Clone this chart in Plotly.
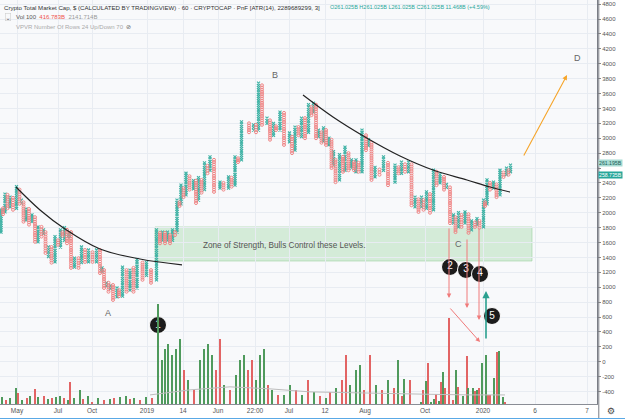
import plotly.graph_objects as go

# ---------------- DATA ----------------
# Point & Figure columns (slot position, column high, column low); kinds alternate X / O starting with X
col_x = [1, 3, 5, 7.5, 10, 13, 16.5, 19.5, 21.5, 23.5, 26, 29, 32, 35, 38, 41.5, 43.5, 45.5, 48.5, 51.5,
         55, 58, 60.5, 62.5, 64.5, 67, 69, 71, 74.5, 78.5, 81.5, 85, 88.5, 92.5, 96.5, 100, 102, 104, 106.5, 108.5,
         110.5, 113, 117, 119, 122.5, 126.5, 130, 133.5, 137, 142.5, 146.5, 151, 156.5, 160, 162.5, 165, 167.5, 170, 172.5, 175,
         177, 179.5, 181, 183.5, 186, 189.5, 193.5, 196, 198.5, 201.5, 204.5, 207.5, 210, 214, 220, 223.5, 228.5, 231.5, 235, 238,
         241.5, 249, 253.5, 256, 258.5, 262, 267, 270, 273.5, 276, 280, 284, 289.5, 292, 295, 298.5, 301.5, 305, 308.5, 311.5,
         313.5, 316, 318.5, 321.5, 323.5, 326, 329, 331.5, 333.5, 335.5, 339.5, 343, 345, 348.5, 351.5, 354, 356, 358.5, 362, 366,
         368.5, 371.5, 375, 379.5, 383.5, 388, 395, 398.5, 401.5, 405, 408.5, 411.5, 415, 418.5, 421.5, 423.5, 426.5, 430, 433.5, 436.5,
         440, 444, 446.5, 450, 453.5, 455.5, 458.5, 461.5, 465, 468.5, 471.5, 475, 477, 479.5, 483.5, 485, 487, 490, 493.5, 496.5,
         500, 503.5, 506.5, 508.5, 510.5]
col_hi = [2040, 2060, 2250, 2240, 2210, 2200, 2350, 2310, 2170, 2140, 2050, 2050, 1970, 1940, 1810, 1810, 1770, 1740, 1540, 1540,
          1680, 1630, 1770, 1740, 1800, 1770, 1730, 1740, 1390, 1390, 1540, 1500, 1500, 1470, 1500, 1500, 1260, 1230, 1060, 1060,
          1020, 1030, 990, 960, 1270, 1230, 1230, 1260, 1370, 1330, 1330, 1230, 1770, 1730, 1740, 1730, 1740, 1700, 1770, 1740,
          2170, 2140, 2370, 2330, 2530, 2490, 2430, 2430, 2470, 2440, 2670, 2630, 2750, 2710, 2410, 2400, 2480, 2470, 2750, 2730,
          3220, 3200, 3180, 3180, 3740, 3710, 3270, 3240, 3200, 3160, 3350, 3340, 3070, 3020, 3150, 3150, 3270, 3270, 3450, 3420,
          3470, 3450, 3110, 3080, 3140, 3110, 3000, 2980, 2820, 2710, 2780, 2750, 2880, 2800, 2710, 2680, 2710, 2670, 3110, 3040,
          2980, 2940, 2610, 2580, 2750, 2670, 2640, 2610, 2680, 2650, 2680, 2650, 2210, 2180, 2210, 2170, 2280, 2250, 2570, 2550,
          2510, 2480, 2380, 2340, 1970, 1940, 2000, 1970, 2010, 1980, 1890, 1870, 1920, 1890, 2170, 2140, 2440, 2400, 2410, 2380,
          2570, 2540, 2600, 2570, 2640]
col_lo = [1740, 1980, 2010, 2060, 2080, 2040, 2060, 2120, 2130, 1880, 1900, 1840, 1880, 1610, 1610, 1680, 1720, 1460, 1410, 1330,
          1340, 1570, 1540, 1690, 1630, 1590, 1660, 1260, 1270, 1260, 1330, 1340, 1340, 1340, 1340, 1190, 1210, 990, 1020, 940,
          980, 830, 870, 880, 880, 940, 960, 940, 990, 1100, 1160, 1060, 1100, 1590, 1630, 1590, 1630, 1590, 1630, 1700,
          1740, 2090, 2120, 2210, 2240, 2310, 2320, 2130, 2170, 2270, 2310, 2530, 2570, 2280, 2330, 2310, 2330, 2350, 2370, 2680,
          2710, 3080, 3110, 3080, 3110, 3180, 3200, 2980, 3040, 3110, 3110, 2910, 2950, 2800, 2840, 3040, 3020, 3000, 3080, 3310,
          3350, 3000, 3020, 2940, 2960, 2910, 2910, 2600, 2640, 2410, 2440, 2550, 2570, 2570, 2600, 2570, 2550, 2550, 2550, 2840,
          2900, 2440, 2480, 2510, 2570, 2370, 2410, 2530, 2530, 2550, 2550, 2100, 2080, 2010, 2080, 2040, 2060, 2000, 2040, 2370,
          2400, 2310, 2340, 1860, 1860, 1740, 1810, 1810, 1860, 1730, 1770, 1810, 1840, 1800, 1810, 2090, 2120, 2310, 2330, 2210,
          2240, 2480, 2510, 2510, 2550]
BOX = 30

# Volume histogram (slot position, volume, 1 = up / 0 = down)
vol_x = [2, 6, 10, 16, 18, 22, 27, 30, 35, 38, 44, 48, 52, 56, 60, 64, 68, 70, 74, 80, 83, 88, 92, 98, 104, 110, 114, 120,
         126, 130, 134, 140, 146, 152, 158, 162, 165, 168, 172, 176, 180, 184, 188, 194, 200, 204, 208, 212, 216, 220, 224, 230,
         236, 240, 244, 248, 252, 256, 260, 264, 268, 272, 278, 284, 290, 296, 302, 308, 314, 320, 326, 330, 336, 342, 346, 350,
         356, 360, 364, 370, 376, 382, 388, 394, 398,
         402, 404, 410, 421, 423, 426, 428, 431, 434, 436, 439, 441, 443, 445, 449, 453, 456, 458, 463, 467, 468, 473, 475, 477,
         479, 482, 486, 488, 490, 494, 497, 499, 503, 505]
vol_v = [35, 20, 30, 80, 55, 20, 30, 40, 75, 35, 40, 25, 30, 35, 40, 30, 20, 110, 30, 70, 25, 40, 10, 30, 20, 25, 30, 35,
         40, 25, 30, 20, 35, 30, 495, 220, 270, 295, 245, 270, 320, 170, 120, 70, 220, 270, 295, 245, 170, 320, 95, 70,
         145, 220, 245, 170, 220, 120, 245, 270, 95, 70, 45, 45, 95, 70, 45, 120, 60, 40, 30, 60, 80, 120, 245, 95,
         170, 195, 70, 245, 95, 70, 120, 80, 220,
         40, 125, 120, 10, 70, 115, 205, 10, 25, 50, 15, 110, 160, 80, 425, 20, 170, 85, 40, 240, 80, 80, 65, 70,
         80, 205, 245, 45, 45, 130, 255, 260, 35, 5]
vol_up = [1, 0, 1, 1, 0, 1, 0, 1, 0, 1, 0, 1, 0, 1, 1, 0, 1, 0, 1, 1, 0, 1, 0, 1, 0, 1, 0, 1,
          1, 0, 1, 0, 1, 0, 1, 1, 1, 1, 1, 1, 1, 0, 1, 0, 1, 1, 1, 1, 0, 0, 1, 0,
          1, 1, 1, 0, 0, 1, 1, 1, 0, 1, 0, 1, 1, 0, 1, 0, 1, 0, 1, 0, 1, 0, 0, 1,
          1, 1, 0, 0, 1, 0, 1, 0, 1,
          0, 1, 0, 1, 0, 1, 0, 1, 1, 0, 1, 0, 1, 0, 0, 0, 1, 0, 1, 0, 1, 1, 0, 1,
          0, 1, 1, 0, 0, 1, 0, 1, 1, 0]
ma_x = [150, 190, 230, 270, 310, 350, 390, 430, 470, 505]
ma_v = [45, 70, 85, 75, 60, 55, 50, 48, 45, 45]

# Price-axis and time-axis ticks (2600 is hidden behind the last-price labels)
y_ticks = list(range(-400, 4801, 200))
y_ticktext = ["" if v == 2600 else str(v) for v in y_ticks]
x_tickpos = [17, 58, 92, 147, 183, 218, 255, 289, 325, 365, 425, 483, 535, 587]
x_ticktext = ["May", "Jul", "Oct", "2019", "14", "Jun", "22:00", "Jul", "12", "Aug", "Oct", "2020", "6", "7"]

# Drawings
curve1_x = [16, 40, 65, 100, 140, 182]
curve1_y = [2345, 2037, 1782, 1513, 1379, 1299]
curve2_x = [303, 333, 365, 400, 433, 467, 490, 510]
curve2_y = [3580, 3285, 3017, 2762, 2574, 2439, 2345, 2278]
zone = dict(x0=155, x1=532, y0=1352, y1=1809)
letters = [("A", 108, 655), ("B", 275, 3848), ("C", 458, 1581), ("D", 577, 4077)]
circles_x = [158, 450, 466, 480, 492]
circles_y = [493, 1272, 1232, 1178, 614]
circles_t = ["1", "2", "3", "4", "5"]
red_arrows = [(449, 1809, 449, 856), (467, 1661, 467, 722), (479, 1809, 479, 561), (449, 735, 480, 265)]
green_arrow = (486, 292, 486, 950)
orange_arrow = (523, 2748, 567, 3848)
last_labels = [("261.195B", 2672, "#a8dcd3", "#1b5e57"), ("258.735B", 2512, "#26a69a", "white")]

TEAL = "#3fb2a5"
RED = "#f08585"

# ---------------- FIGURE ----------------
fig = go.Figure()

# volume bars on a hidden overlay axis
fig.add_trace(go.Bar(x=vol_x, y=vol_v, width=1.5, yaxis="y2",
                     marker=dict(color=["#4f9a5c" if u else "#e26464" for u in vol_up], line_width=0),
                     hoverinfo="skip", showlegend=False))
fig.add_trace(go.Scatter(x=ma_x, y=ma_v, yaxis="y2", mode="lines", line=dict(color="#bdbdbd", width=1),
                         hoverinfo="skip", showlegend=False))

# PnF columns
xs_x, ys_x, xs_o, ys_o = [], [], [], []
for i, (cx, hi, lo) in enumerate(zip(col_x, col_hi, col_lo)):
    n = max(1, int(round((hi - lo) / BOX)) + 1)
    vals = [lo + k * (hi - lo) / max(n - 1, 1) for k in range(n)]
    if i % 2 == 0:
        xs_x += [cx] * n
        ys_x += vals
    else:
        xs_o += [cx] * n
        ys_o += vals
fig.add_trace(go.Scatter(x=xs_x, y=ys_x, mode="markers",
                         marker=dict(symbol="x-thin", size=3, color=TEAL, line=dict(color=TEAL, width=1.1)),
                         hoverinfo="skip", showlegend=False))
fig.add_trace(go.Scatter(x=xs_o, y=ys_o, mode="markers",
                         marker=dict(symbol="circle-open", size=3, color=RED, line=dict(color=RED, width=1)),
                         hoverinfo="skip", showlegend=False))

# trend curves
for cx, cy in [(curve1_x, curve1_y), (curve2_x, curve2_y)]:
    fig.add_trace(go.Scatter(x=cx, y=cy, mode="lines", line=dict(color="#222", width=1.2, shape="spline"),
                             hoverinfo="skip", showlegend=False))

# zone
fig.add_shape(type="rect", xref="x", yref="y", layer="below", **zone,
              fillcolor="rgba(140,205,145,0.33)", line=dict(color="rgba(140,205,145,0.5)", width=1))
fig.add_annotation(x=201, y=(zone["y0"] + zone["y1"]) / 2 - 20, xref="x", yref="y", xanchor="left",
                   text="Zone of Strength, Bulls Control these Levels.", showarrow=False,
                   font=dict(size=8.2, color="#555", family="Liberation Sans"))

for t, lx, ly in letters:
    fig.add_annotation(x=lx, y=ly, text=t, showarrow=False, font=dict(size=9, color="#666", family="Liberation Sans"))

for (x0, y0, x1, y1) in red_arrows:
    fig.add_annotation(x=x1, y=y1, ax=x0, ay=y0, xref="x", yref="y", axref="x", ayref="y", text="",
                       showarrow=True, arrowhead=2, arrowsize=0.9, arrowwidth=1, arrowcolor="#f07a7a")
x0, y0, x1, y1 = green_arrow
fig.add_annotation(x=x1, y=y1, ax=x0, ay=y0, xref="x", yref="y", axref="x", ayref="y", text="",
                   showarrow=True, arrowhead=2, arrowsize=0.9, arrowwidth=1.6, arrowcolor="#2aa08f")
x0, y0, x1, y1 = orange_arrow
fig.add_annotation(x=x1, y=y1, ax=x0, ay=y0, xref="x", yref="y", axref="x", ayref="y", text="",
                   showarrow=True, arrowhead=2, arrowsize=0.9, arrowwidth=1.1, arrowcolor="#f6a52a")

fig.add_trace(go.Scatter(x=circles_x, y=circles_y, mode="markers+text", text=circles_t,
                         marker=dict(size=17, color="#1c1c1c", line=dict(color="white", width=1)),
                         textfont=dict(color="white", size=10, family="Liberation Sans"),
                         textposition="middle center", hoverinfo="skip", showlegend=False))

# header texts
H = 404.0
def py(px):
    return 1 - px / H

fig.add_annotation(x=0.004, y=py(7), xref="paper", yref="paper", xanchor="left", yanchor="middle", showarrow=False,
                   text="Crypto Total Market Cap, $ (CALCULATED BY TRADINGVIEW) · 60 · CRYPTOCAP · PnF [ATR(14), 2289689299, 3]",
                   font=dict(size=6.1, color="#333", family="Liberation Sans"))
fig.add_annotation(x=328 / 597, y=py(7), xref="paper", yref="paper", xanchor="left", yanchor="middle", showarrow=False,
                   text="O261.025B H261.025B L261.025B C261.025B 11.468B (+4.59%)",
                   font=dict(size=5.5, color="#26a69a", family="Liberation Sans"))
fig.add_annotation(x=5 / 597, y=py(17), xref="paper", yref="paper", xanchor="left", yanchor="middle", showarrow=False,
                   text="⌄", bordercolor="#cfcfcf", borderwidth=0.6, borderpad=0,
                   font=dict(size=6, color="#555", family="DejaVu Sans"))
fig.add_annotation(x=14 / 597, y=py(17), xref="paper", yref="paper", xanchor="left", yanchor="middle", showarrow=False,
                   text="Vol 100  <span style='color:#ef5350'>416.783B</span>  <span style='color:#999'>2141.714B</span>",
                   font=dict(size=6, color="#555", family="Liberation Sans"))
fig.add_annotation(x=14 / 597, y=py(27), xref="paper", yref="paper", xanchor="left", yanchor="middle", showarrow=False,
                   text="VPVR Number Of Rows 24 Up/Down 70  <span style='color:#666'>⊘</span>",
                   font=dict(size=6, color="#aaa", family="Liberation Sans"))

# last price labels on the axis
for txt, yv, bg, fc in last_labels:
    fig.add_annotation(x=1.002, y=yv, xref="paper", yref="y", xanchor="left", yanchor="middle", showarrow=False,
                       text=txt, bgcolor=bg, font=dict(size=5.2, color=fc, family="Liberation Sans"), borderpad=0)
fig.add_annotation(x=611 / 597, y=py(411), xref="paper", yref="paper", xanchor="center", yanchor="middle",
                   showarrow=False, text="⚙", font=dict(size=9, color="#444", family="DejaVu Sans"))

# frame lines
fig.add_shape(type="line", xref="paper", yref="paper", x0=1.003, x1=1.003, y0=py(419), y1=1,
              line=dict(color="#7a7d85", width=1))
fig.add_shape(type="line", xref="paper", yref="paper", x0=0, x1=625 / 597, y0=py(418.5), y1=py(418.5),
              line=dict(color="#5aa9e6", width=1.2))

fig.update_layout(
    width=625, height=419, margin=dict(l=0, r=28, t=0, b=15),
    paper_bgcolor="white", plot_bgcolor="#f8f9fb",
    barmode="overlay", bargap=0,
    xaxis=dict(range=[0, 597], tickvals=x_tickpos, ticktext=x_ticktext, showgrid=True, gridcolor="#e8ecf2",
               gridwidth=1, zeroline=False, ticks="", tickfont=dict(size=6.5, color="#555", family="Liberation Sans"),
               showline=True, linecolor="#8a8d95", linewidth=1),
    yaxis=dict(range=[-567, 4855], side="right", tickvals=y_ticks, ticktext=y_ticktext,
               showgrid=True, gridcolor="#e8ecf2", gridwidth=1, zeroline=False, ticks="outside", ticklen=3,
               tickcolor="#888", tickfont=dict(size=6, color="#555", family="Liberation Sans"),
               showline=True, linecolor="#7a7d85"),
    yaxis2=dict(range=[0, 2000], overlaying="y", visible=False),
    showlegend=False,
)

fig.write_html("out.html")
